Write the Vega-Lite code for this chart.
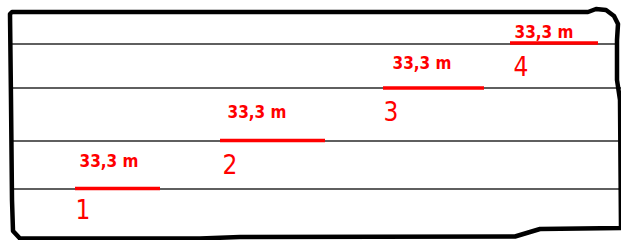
{
  "$schema": "https://vega.github.io/schema/vega-lite/v6.json",
  "width": 621,
  "height": 240,
  "autosize": "none",
  "padding": 0,
  "background": "white",
  "config": {"view": {"stroke": null}},
  "datasets": {
    "border": [
      {"o": 1, "x": 20, "y": 238.5},
      {"o": 2, "x": 13, "y": 231},
      {"o": 3, "x": 12, "y": 200},
      {"o": 4, "x": 11, "y": 100},
      {"o": 5, "x": 10, "y": 14},
      {"o": 6, "x": 12, "y": 12},
      {"o": 7, "x": 300, "y": 12},
      {"o": 8, "x": 588, "y": 12},
      {"o": 9, "x": 596, "y": 9},
      {"o": 10, "x": 606, "y": 10},
      {"o": 11, "x": 614, "y": 16},
      {"o": 12, "x": 618, "y": 24},
      {"o": 13, "x": 617, "y": 40},
      {"o": 14, "x": 617, "y": 80},
      {"o": 15, "x": 620, "y": 100},
      {"o": 16, "x": 621, "y": 228},
      {"o": 17, "x": 540, "y": 229},
      {"o": 18, "x": 530, "y": 232},
      {"o": 19, "x": 515, "y": 236.5},
      {"o": 20, "x": 240, "y": 237},
      {"o": 21, "x": 200, "y": 238.5},
      {"o": 22, "x": 20, "y": 238.5}
    ],
    "lines": [
      {"x": 12, "x2": 617, "y": 44},
      {"x": 12, "x2": 621, "y": 88},
      {"x": 12, "x2": 621, "y": 141},
      {"x": 12, "x2": 621, "y": 189}
    ],
    "segments": [
      {"x": 75, "x2": 160, "y": 188.5},
      {"x": 220, "x2": 325, "y": 140.5},
      {"x": 383, "x2": 484, "y": 88},
      {"x": 510, "x2": 598, "y": 43}
    ],
    "labels": [
      {"x": 109, "y": 162, "t": "33,3 m"},
      {"x": 257, "y": 113, "t": "33,3 m"},
      {"x": 422, "y": 64, "t": "33,3 m"},
      {"x": 544, "y": 33, "t": "33,3 m"}
    ],
    "digits": [
      {"x": 83, "y": 211, "t": "1"},
      {"x": 230, "y": 166, "t": "2"},
      {"x": 391, "y": 113, "t": "3"},
      {"x": 521, "y": 68, "t": "4"}
    ]
  },
  "layer": [
    {
      "data": {"name": "lines"},
      "mark": {"type": "rule", "color": "#2a2a2a", "strokeWidth": 1.5},
      "encoding": {
        "x": {"field": "x", "type": "quantitative", "scale": {"domain": [0, 621], "nice": false, "zero": false}, "axis": null},
        "x2": {"field": "x2"},
        "y": {"field": "y", "type": "quantitative", "scale": {"domain": [0, 240], "nice": false, "zero": false, "reverse": true}, "axis": null}
      }
    },
    {
      "data": {"name": "segments"},
      "mark": {"type": "rule", "color": "#ff0000", "strokeWidth": 3.5},
      "encoding": {
        "x": {"field": "x", "type": "quantitative"},
        "x2": {"field": "x2"},
        "y": {"field": "y", "type": "quantitative"}
      }
    },
    {
      "data": {"name": "border"},
      "mark": {"type": "line", "color": "#000000", "strokeWidth": 4.5, "strokeJoin": "round", "strokeCap": "round"},
      "encoding": {
        "x": {"field": "x", "type": "quantitative"},
        "y": {"field": "y", "type": "quantitative"},
        "order": {"field": "o", "type": "quantitative"}
      }
    },
    {
      "data": {"name": "labels"},
      "mark": {"type": "text", "color": "#ff0000", "font": "DejaVu Sans Condensed", "fontWeight": "bold", "fontSize": 17, "align": "center", "baseline": "middle"},
      "encoding": {
        "x": {"field": "x", "type": "quantitative"},
        "y": {"field": "y", "type": "quantitative"},
        "text": {"field": "t"}
      }
    },
    {
      "data": {"name": "digits"},
      "mark": {"type": "text", "color": "#ff0000", "font": "Liberation Sans Narrow, DejaVu Sans Condensed", "fontSize": 26, "align": "center", "baseline": "middle"},
      "encoding": {
        "x": {"field": "x", "type": "quantitative"},
        "y": {"field": "y", "type": "quantitative"},
        "text": {"field": "t"}
      }
    }
  ]
}
